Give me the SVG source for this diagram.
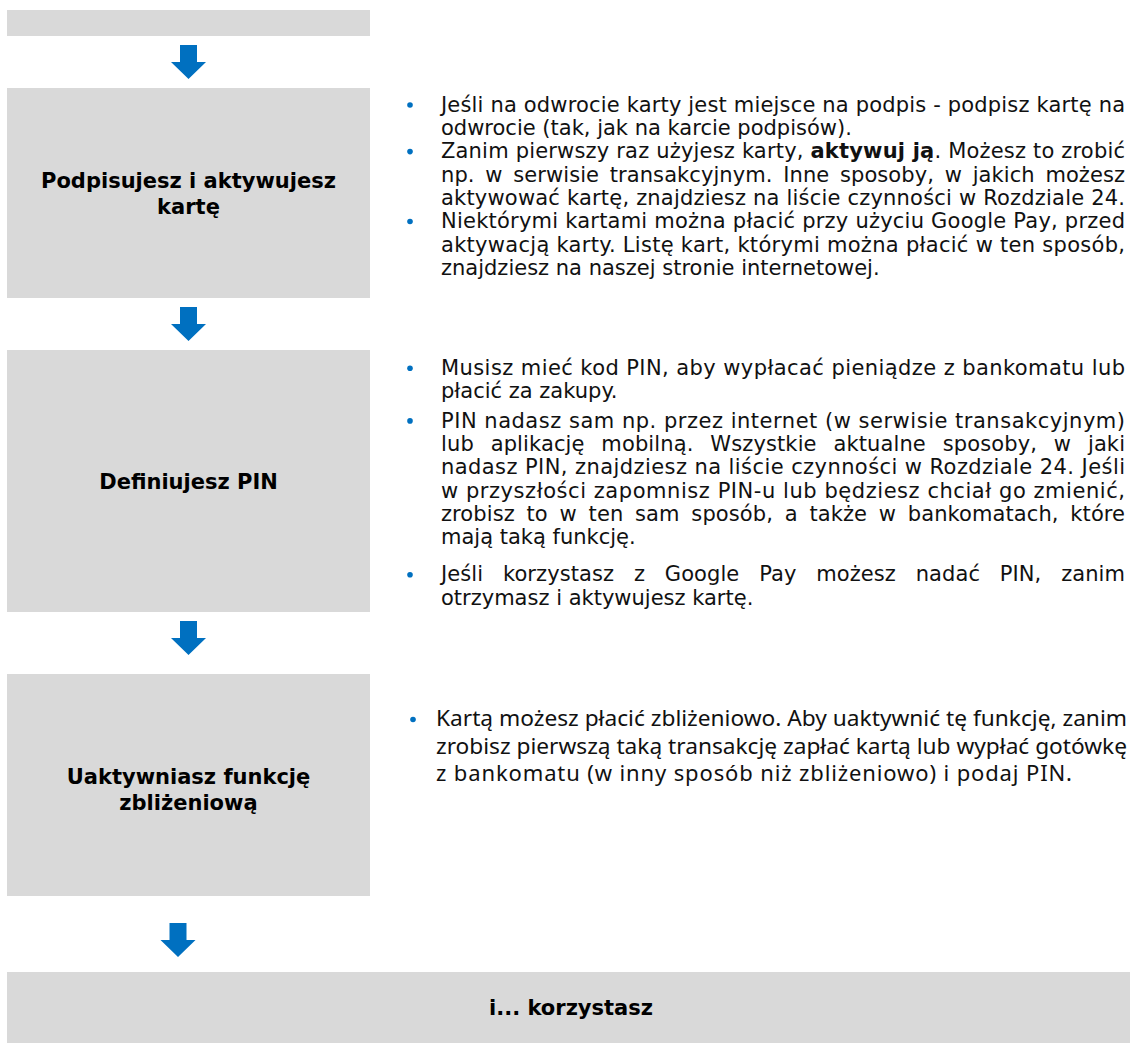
<svg xmlns="http://www.w3.org/2000/svg" width="1135" height="1043" viewBox="0 0 1135 1043">
<style>
.box{fill:#D9D9D9}
.arrow{fill:#0070C0}
.bul{fill:#0070C0}
.lbl{font-family:'DejaVu Sans',Verdana,sans-serif;font-size:21px;font-weight:bold;fill:#000;text-anchor:middle}
.txt{font-family:'DejaVu Sans',Verdana,sans-serif;font-size:21px;fill:#111}
.txt2{font-family:'Noto Sans','Open Sans',sans-serif;font-size:22px;fill:#111}
</style>
<defs>
<path id="arr" d="M-8.5,0 H8.5 V17 H17.5 L0,34 L-17.5,17 H-8.5 Z"/>
</defs>
<rect width="1135" height="1043" fill="#fff"/>
<g id="connectors">
<use href="#arr" class="arrow" x="188.5" y="45"/>
<use href="#arr" class="arrow" x="188.5" y="307"/>
<use href="#arr" class="arrow" x="188.5" y="621"/>
<use href="#arr" class="arrow" x="178" y="923"/>
</g>
<g id="node0">
<rect class="box" x="7" y="10" width="363" height="26"/>
</g>
<g id="node1">
<rect class="box" x="7" y="88" width="363" height="210"/>
<text class="lbl" x="188.5" y="188">Podpisujesz i aktywujesz</text>
<text class="lbl" x="188.5" y="213.5">kartę</text>
<circle class="bul" cx="410" cy="105" r="2.8"/>
<circle class="bul" cx="410" cy="151.6" r="2.8"/>
<circle class="bul" cx="410" cy="221.5" r="2.8"/>
<text class="txt" x="441" y="111.7" textLength="684" lengthAdjust="spacing">Jeśli na odwrocie karty jest miejsce na podpis - podpisz kartę na</text>
<text class="txt" x="441" y="135">odwrocie (tak, jak na karcie podpisów).</text>
<text class="txt" x="441" y="158.3" textLength="684" lengthAdjust="spacing">Zanim pierwszy raz użyjesz karty, <tspan font-weight="bold">aktywuj ją</tspan>. Możesz to zrobić</text>
<text class="txt" x="441" y="181.6" word-spacing="4" textLength="684" lengthAdjust="spacing">np. w serwisie transakcyjnym. Inne sposoby, w jakich możesz</text>
<text class="txt" x="441" y="204.9" textLength="684" lengthAdjust="spacing">aktywować kartę, znajdziesz na liście czynności w Rozdziale 24.</text>
<text class="txt" x="441" y="228.2" textLength="684" lengthAdjust="spacing">Niektórymi kartami można płacić przy użyciu Google Pay, przed</text>
<text class="txt" x="441" y="251.5" textLength="684" lengthAdjust="spacing">aktywacją karty. Listę kart, którymi można płacić w ten sposób,</text>
<text class="txt" x="441" y="274.8">znajdziesz na naszej stronie internetowej.</text>
</g>
<g id="node2">
<rect class="box" x="7" y="350" width="363" height="262"/>
<text class="lbl" x="188.5" y="489">Definiujesz PIN</text>
<circle class="bul" cx="410" cy="368.3" r="2.8"/>
<circle class="bul" cx="410" cy="420.9" r="2.8"/>
<circle class="bul" cx="410" cy="574.7" r="2.8"/>
<text class="txt" x="441" y="375" textLength="684" lengthAdjust="spacing">Musisz mieć kod PIN, aby wypłacać pieniądze z bankomatu lub</text>
<text class="txt" x="441" y="398.3">płacić za zakupy.</text>
<text class="txt" x="441" y="427.6" textLength="684" lengthAdjust="spacing">PIN nadasz sam np. przez internet (w serwisie transakcyjnym)</text>
<text class="txt" x="441" y="450.9" word-spacing="10" textLength="684" lengthAdjust="spacing">lub aplikację mobilną. Wszystkie aktualne sposoby, w jaki</text>
<text class="txt" x="441" y="474.2" textLength="684" lengthAdjust="spacing">nadasz PIN, znajdziesz na liście czynności w Rozdziale 24. Jeśli</text>
<text class="txt" x="441" y="497.5" textLength="684" lengthAdjust="spacing">w przyszłości zapomnisz PIN-u lub będziesz chciał go zmienić,</text>
<text class="txt" x="441" y="520.8" word-spacing="5" textLength="684" lengthAdjust="spacing">zrobisz to w ten sam sposób, a także w bankomatach, które</text>
<text class="txt" x="441" y="544.1">mają taką funkcję.</text>
<text class="txt" x="441" y="581.4" word-spacing="13" textLength="684" lengthAdjust="spacing">Jeśli korzystasz z Google Pay możesz nadać PIN, zanim</text>
<text class="txt" x="441" y="604.7">otrzymasz i aktywujesz kartę.</text>
</g>
<g id="node3">
<rect class="box" x="7" y="674" width="363" height="222"/>
<text class="lbl" x="188.5" y="784">Uaktywniasz funkcję</text>
<text class="lbl" x="188.5" y="809.5">zbliżeniową</text>
<circle class="bul" cx="413" cy="719.5" r="2.8"/>
<text class="txt2" x="436" y="726" textLength="691" lengthAdjust="spacingAndGlyphs">Kartą możesz płacić zbliżeniowo. Aby uaktywnić tę funkcję, zanim</text>
<text class="txt2" x="436" y="753.5" textLength="691" lengthAdjust="spacingAndGlyphs">zrobisz pierwszą taką transakcję zapłać kartą lub wypłać gotówkę</text>
<text class="txt2" x="436" y="781" textLength="636" lengthAdjust="spacing">z bankomatu (w inny sposób niż zbliżeniowo) i podaj PIN.</text>
</g>
<g id="node4">
<rect class="box" x="7" y="972" width="1123" height="71"/>
<text class="lbl" x="571" y="1015">i... korzystasz</text>
</g>
</svg>
